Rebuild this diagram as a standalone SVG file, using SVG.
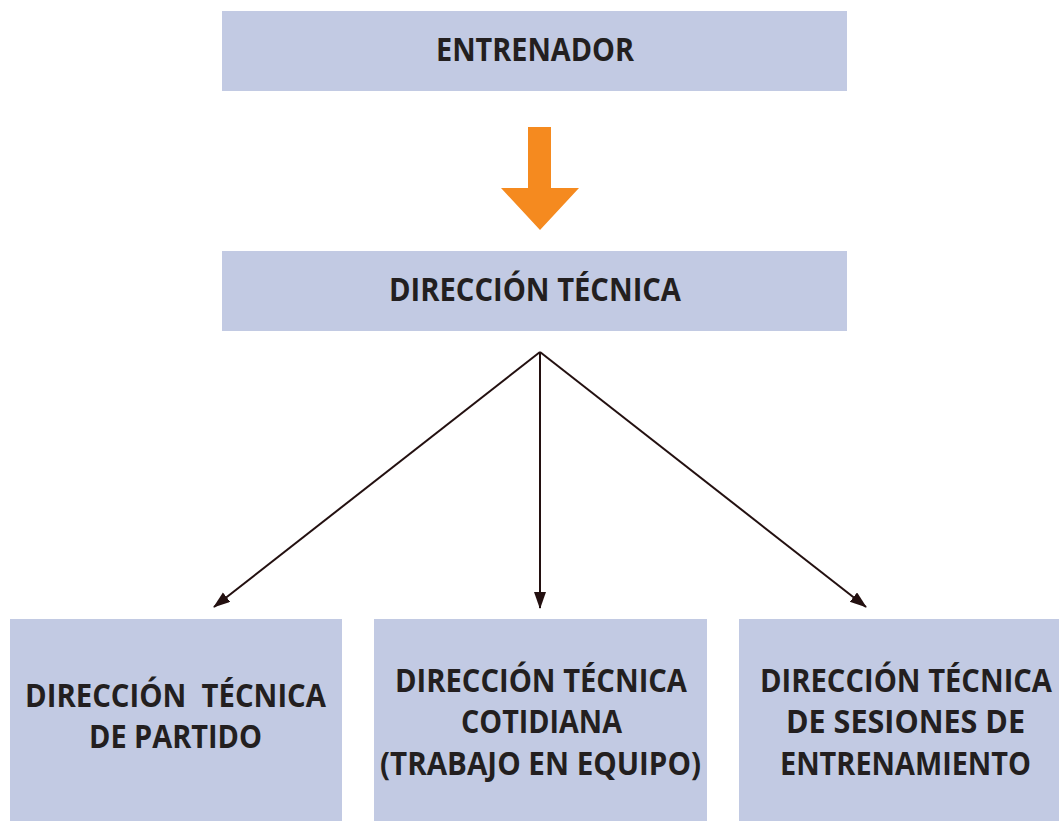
<svg xmlns="http://www.w3.org/2000/svg" width="1059" height="821" viewBox="0 0 1059 821">
<style>
.box{fill:#c2cae3}
.t{font-family:"Open Sans","Liberation Sans",sans-serif;font-weight:bold;font-size:31.5px;fill:#231f20;text-anchor:middle}
.c{stroke:#231010;stroke-width:2;fill:none}
</style>
<defs>
<marker id="ah" markerUnits="userSpaceOnUse" markerWidth="18" markerHeight="14" refX="16" refY="6" orient="auto">
<path d="M0,0 L17,6 L0,12 Z" fill="#231010"/>
</marker>
</defs>
<rect width="1059" height="821" fill="#fff"/>
<g id="entrenador">
<rect class="box" x="222" y="11" width="625" height="80"/>
<text class="t" x="535" y="61" textLength="198" lengthAdjust="spacingAndGlyphs">ENTRENADOR</text>
</g>
<g id="orange-arrow">
<path d="M528,127 L551,127 L551,188 L579,188 L540,230 L501,188 L528,188 Z" fill="#f58a1f"/>
</g>
<g id="direccion">
<rect class="box" x="222" y="251" width="625" height="80"/>
<text class="t" x="535" y="301" textLength="292" lengthAdjust="spacingAndGlyphs">DIRECCIÓN TÉCNICA</text>
</g>
<g id="connectors">
<line class="c" x1="540" y1="352" x2="214" y2="607" marker-end="url(#ah)"/>
<line class="c" x1="540" y1="352" x2="540" y2="608" marker-end="url(#ah)"/>
<line class="c" x1="540" y1="352" x2="866" y2="607" marker-end="url(#ah)"/>
</g>
<g id="partido">
<rect class="box" x="10" y="619" width="332" height="202"/>
<text class="t" x="175.5" y="707" textLength="301" lengthAdjust="spacingAndGlyphs">DIRECCIÓN&#160; TÉCNICA</text>
<text class="t" x="175.5" y="748" textLength="173" lengthAdjust="spacingAndGlyphs">DE PARTIDO</text>
</g>
<g id="cotidiana">
<rect class="box" x="374" y="619" width="333" height="202"/>
<text class="t" x="541" y="692" textLength="292" lengthAdjust="spacingAndGlyphs">DIRECCIÓN TÉCNICA</text>
<text class="t" x="541.5" y="733" textLength="161" lengthAdjust="spacingAndGlyphs">COTIDIANA</text>
<text class="t" x="540.5" y="775" textLength="321" lengthAdjust="spacingAndGlyphs">(TRABAJO EN EQUIPO)</text>
</g>
<g id="sesiones">
<rect class="box" x="739" y="619" width="320" height="202"/>
<text class="t" x="906" y="692" textLength="292" lengthAdjust="spacingAndGlyphs">DIRECCIÓN TÉCNICA</text>
<text class="t" x="905.5" y="733" textLength="239" lengthAdjust="spacingAndGlyphs">DE SESIONES DE</text>
<text class="t" x="905.5" y="775" textLength="251" lengthAdjust="spacingAndGlyphs">ENTRENAMIENTO</text>
</g>
</svg>
